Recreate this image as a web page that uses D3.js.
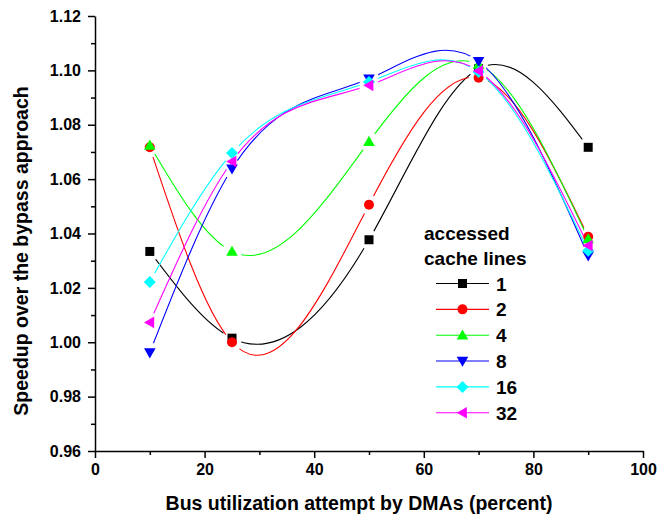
<!DOCTYPE html>
<html>
<head>
<meta charset="utf-8">
<script src="https://cdn.jsdelivr.net/npm/d3@7"></script>
<style>
  html, body { margin: 0; padding: 0; background: #fff; }
  svg { display: block; }
  text { font-family: "Liberation Sans", Arial, Helvetica, sans-serif; font-weight: bold; fill: #000; }
</style>
</head>
<body>
<svg id="chart" width="667" height="516"></svg>
<script>
// ---- data ----
const xValues = [10, 25, 50, 70, 90];
const seriesNames = ["1", "2", "4", "8", "16", "32"];
const s1  = [1.0334, 1.0015, 1.0377, 1.1006, 1.0717];
const s2  = [1.0717, 1.0000, 1.0506, 1.0973, 1.0388];
const s4  = [1.0724, 1.0334, 1.0738, 1.1022, 1.0380];
const s8  = [0.9962, 1.0638, 1.0969, 1.1033, 1.0318];
const s16 = [1.0222, 1.0696, 1.0957, 1.0994, 1.0337];
const s32 = [1.0073, 1.0665, 1.0945, 1.0998, 1.0356];
const seriesValues = [s1, s2, s4, s8, s16, s32];
const xTicks = [0, 20, 40, 60, 80, 100];
const xMinorTicks = [10, 30, 50, 70, 90];
const yTicks = [0.96, 0.98, 1.00, 1.02, 1.04, 1.06, 1.08, 1.10, 1.12];
const yMinorTicks = [0.97, 0.99, 1.01, 1.03, 1.05, 1.07, 1.09, 1.11];
const legendTitle = ["accessed", "cache lines"];
const xTitle = "Bus utilization attempt by DMAs (percent)";
const yTitle = "Speedup over the bypass approach";

// ---- styles ----
const colors = ["#000000", "#ff0000", "#00ff00", "#0000ff", "#00ffff", "#ff00ff"];
const shapes = ["square", "circle", "up", "down", "diamond", "left"];

const svg = d3.select("#chart");
const x = d3.scaleLinear().domain([0, 100]).range([95, 643]);
const y = d3.scaleLinear().domain([0.96, 1.12]).range([451, 16]);

// Natural cubic spline y(x) as a d3 curve factory (function of x, like Origin's "Spline")
function curveSplineX(context) {
  let xs, ys;
  return {
    areaStart() {}, areaEnd() {},
    lineStart() { xs = []; ys = []; },
    point(px, py) { xs.push(+px); ys.push(+py); },
    lineEnd() {
      const n = xs.length;
      if (!n) return;
      context.moveTo(xs[0], ys[0]);
      if (n < 3) { if (n === 2) context.lineTo(xs[1], ys[1]); return; }
      const h = [], d = [];
      for (let i = 0; i < n - 1; i++) { h[i] = xs[i + 1] - xs[i]; d[i] = (ys[i + 1] - ys[i]) / h[i]; }
      // tridiagonal system for second derivatives M (natural ends)
      const m = n - 2, a = [], b = [], c = [], r = [];
      for (let k = 0; k < m; k++) {
        const i = k + 1;
        a[k] = h[i - 1]; b[k] = 2 * (h[i - 1] + h[i]); c[k] = h[i]; r[k] = 6 * (d[i] - d[i - 1]);
      }
      for (let k = 1; k < m; k++) {
        const w = a[k] / b[k - 1];
        b[k] -= w * c[k - 1]; r[k] -= w * r[k - 1];
      }
      const M = new Array(n).fill(0);
      for (let k = m - 1; k >= 0; k--) {
        M[k + 1] = (r[k] - (k < m - 1 ? c[k] * M[k + 2] : 0)) / b[k];
      }
      for (let i = 0; i < n - 1; i++) {
        const s0 = d[i] - h[i] * (2 * M[i] + M[i + 1]) / 6;
        const s1 = d[i] + h[i] * (M[i] + 2 * M[i + 1]) / 6;
        context.bezierCurveTo(
          xs[i] + h[i] / 3, ys[i] + s0 * h[i] / 3,
          xs[i + 1] - h[i] / 3, ys[i + 1] - s1 * h[i] / 3,
          xs[i + 1], ys[i + 1]);
      }
    }
  };
}

function markerPath(shape) {
  switch (shape) {
    case "square": return "M-4.5,-4.5H4.5V4.5H-4.5Z";
    case "circle": return "M5,0A5,5 0 1,1 -5,0A5,5 0 1,1 5,0Z";
    case "up": return "M0,-5.8L5.8,4.4L-5.8,4.4Z";
    case "down": return "M0,5.8L5.8,-4.4L-5.8,-4.4Z";
    case "diamond": return "M0,-6L6,0L0,6L-6,0Z";
    case "left": return "M-5.8,0L4.4,-5.8L4.4,5.8Z";
  }
}

// ---- axes ----
const gx = svg.append("g").attr("transform", `translate(0,${y.range()[0]})`);
gx.call(d3.axisBottom(x).tickValues(xTicks).tickSize(7).tickSizeOuter(0).tickPadding(6).tickFormat(d3.format("d")));
const gxm = svg.append("g").attr("transform", `translate(0,${y.range()[0]})`);
gxm.call(d3.axisBottom(x).tickValues(xMinorTicks).tickSize(4).tickSizeOuter(0).tickFormat(""));
gxm.select(".domain").remove();

const gy = svg.append("g").attr("transform", `translate(${x.range()[0]},0)`);
gy.call(d3.axisLeft(y).tickValues(yTicks).tickSize(7).tickSizeOuter(0).tickPadding(7).tickFormat(d3.format(".2f")));
const gym = svg.append("g").attr("transform", `translate(${x.range()[0]},0)`);
gym.call(d3.axisLeft(y).tickValues(yMinorTicks).tickSize(4).tickSizeOuter(0).tickFormat(""));
gym.select(".domain").remove();

svg.selectAll(".domain, .tick line").attr("stroke", "#000").attr("stroke-width", 1.5);
svg.selectAll(".tick text").attr("font-size", 16).attr("font-family", null).attr("fill", "#000");

// axis titles
svg.append("text").attr("x", 359).attr("y", 510).attr("text-anchor", "middle")
  .attr("font-size", 19.5).text(xTitle);
svg.append("text").attr("transform", "translate(28,251) rotate(-90)").attr("text-anchor", "middle")
  .attr("font-size", 19.5).text(yTitle);

// ---- series ----
const defs = svg.append("defs");
const line = d3.line().curve(curveSplineX).x(d => x(d.x)).y(d => y(d.y));

seriesValues.forEach((vals, i) => {
  const pts = vals.map((v, j) => ({ x: xValues[j], y: v }));
  const mask = defs.append("mask").attr("id", "m" + i).attr("maskUnits", "userSpaceOnUse")
    .attr("x", 0).attr("y", 0).attr("width", 667).attr("height", 516);
  mask.append("rect").attr("width", 667).attr("height", 516).attr("fill", "#fff");
  mask.selectAll("circle").data(pts).enter().append("circle")
    .attr("cx", d => x(d.x)).attr("cy", d => y(d.y)).attr("r", 10).attr("fill", "#000");
  svg.append("path").datum(pts).attr("d", line).attr("fill", "none")
    .attr("stroke", colors[i]).attr("stroke-width", 1.1).attr("mask", `url(#m${i})`);
});

seriesValues.forEach((vals, i) => {
  const pts = vals.map((v, j) => ({ x: xValues[j], y: v }));
  svg.append("g").selectAll("path").data(pts).enter().append("path")
    .attr("transform", d => `translate(${x(d.x)},${y(d.y)})`)
    .attr("d", markerPath(shapes[i])).attr("fill", colors[i]);
});

// ---- legend ----
const lg = svg.append("g");
lg.selectAll("text.title").data(legendTitle).enter().append("text").attr("class", "title")
  .attr("x", 424).attr("y", (d, i) => 240 + i * 25).attr("font-size", 19).text(d => d);
seriesNames.forEach((name, i) => {
  const cy = 283.5 + i * 25.85;
  lg.append("line").attr("x1", 436).attr("x2", 489).attr("y1", cy).attr("y2", cy)
    .attr("stroke", colors[i]).attr("stroke-width", 1.1);
  lg.append("path").attr("transform", `translate(462.5,${cy})`).attr("d", markerPath(shapes[i]))
    .attr("fill", colors[i]);
  lg.append("text").attr("x", 496).attr("y", cy + 7).attr("font-size", 19).text(name);
});
</script>
</body>
</html>
